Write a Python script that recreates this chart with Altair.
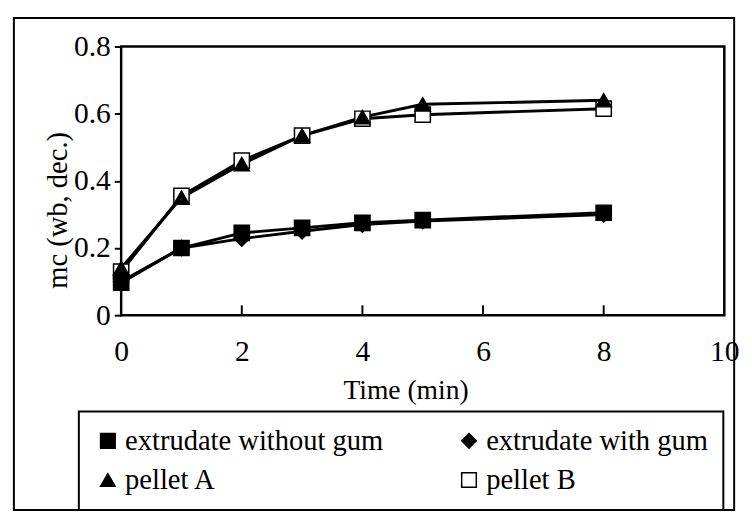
import altair as alt
import pandas as pd

# ---- data ----
times = [0, 1, 2, 3, 4, 5, 8]
extrudate_without_gum = [0.097, 0.200, 0.245, 0.260, 0.275, 0.283, 0.305]
extrudate_with_gum = [0.100, 0.200, 0.228, 0.250, 0.270, 0.280, 0.300]
pellet_a = [0.140, 0.350, 0.450, 0.535, 0.590, 0.628, 0.640]
pellet_b = [0.130, 0.355, 0.460, 0.535, 0.585, 0.597, 0.615]

series_names = ["extrudate without gum", "extrudate with gum", "pellet A", "pellet B"]
series_values = [extrudate_without_gum, extrudate_with_gum, pellet_a, pellet_b]
series_shapes = ["square", "diamond", "triangle-up", "square"]
series_fills = ["black", "black", "black", "white"]
series_strokes = ["black", "black", "black", "black"]

x_tick_values = [0, 2, 4, 6, 8, 10]
y_tick_values = [0, 0.2, 0.4, 0.6, 0.8]
inner_x_ticks = [2, 4, 6, 8]

# draw order: pellet B first so the other markers sit on top
rows = []
for name, vals in reversed(list(zip(series_names, series_values))):
    for t, v in zip(times, vals):
        rows.append({"t": t, "mc": v, "series": name})
df = pd.DataFrame(rows)

FONT = "Liberation Serif"
W, H = 613, 273

x_scale = alt.Scale(domain=[0, 10], nice=False)
y_scale = alt.Scale(domain=[0, 0.8], nice=False)

x_axis = alt.Axis(
    values=x_tick_values, tickSize=0, labelPadding=22, domain=False, grid=False,
    format="d",
    labelFont=FONT, labelFontSize=30, labelColor="black",
    title="Time (min)", titleFont=FONT, titleFontSize=28, titleFontWeight="normal",
    titleColor="black", titleX=289, titleY=77, titleBaseline="middle", titleAlign="center",
    labelFlush=False,
)
y_axis = alt.Axis(
    values=y_tick_values, tickSize=7, tickWidth=2, tickColor="black", labelPadding=4,
    domain=False, grid=False, format=".1~f",
    labelFont=FONT, labelFontSize=30, labelColor="black",
    title="mc (wb, dec.)", titleFont=FONT, titleFontSize=29, titleFontWeight="normal",
    titleColor="black", titleX=-65, titleY=166, titleAngle=270,
    titleBaseline="middle", titleAlign="center",
)

base = alt.Chart(df)

lines = base.mark_line(color="black", strokeWidth=3).encode(
    x=alt.X("t:Q", scale=x_scale, axis=x_axis),
    y=alt.Y("mc:Q", scale=y_scale, axis=y_axis),
    detail="series:N",
)

legend = alt.Legend(
    orient="none", legendX=-43, legendY=371, columns=2, direction="horizontal",
    strokeColor="black", padding=15, columnPadding=72, rowPadding=10,
    labelFont=FONT, labelFontSize=29, labelColor="black", labelLimit=500,
    symbolSize=220, symbolStrokeColor="black", symbolStrokeWidth=1.5,
    labelOffset=3,
)

points = base.mark_point(filled=False, size=240, strokeWidth=1.5, opacity=1).encode(
    x=alt.X("t:Q", scale=x_scale),
    y=alt.Y("mc:Q", scale=y_scale),
    shape=alt.Shape("series:N", sort=series_names,
                    scale=alt.Scale(domain=series_names, range=series_shapes),
                    legend=legend, title=None),
    fill=alt.Fill("series:N", sort=series_names,
                  scale=alt.Scale(domain=series_names, range=series_fills),
                  legend=legend, title=None),
    stroke=alt.Stroke("series:N", sort=series_names,
                      scale=alt.Scale(domain=series_names, range=series_strokes),
                      legend=legend, title=None),
)

tick_df = pd.DataFrame({"t": inner_x_ticks})
inner_ticks = alt.Chart(tick_df).mark_rule(color="black", strokeWidth=2).encode(
    x=alt.X("t:Q", scale=x_scale),
    y=alt.value(H),
    y2=alt.value(H - 10),
)

frame = alt.Chart(pd.DataFrame({"a": [0]})).mark_rect(
    fill="transparent", stroke="black", strokeWidth=2
).encode(
    x=alt.value(-109), x2=alt.value(623), y=alt.value(-29), y2=alt.value(471),
)

chart = (
    alt.layer(frame, lines, inner_ticks, points)
    .properties(width=W, height=H, background="white")
    .configure_view(stroke="black", strokeWidth=2.5)
    .configure_legend(strokeWidth=2)
)

chart.save("out.html", embed_options={"renderer": "svg", "actions": False})
